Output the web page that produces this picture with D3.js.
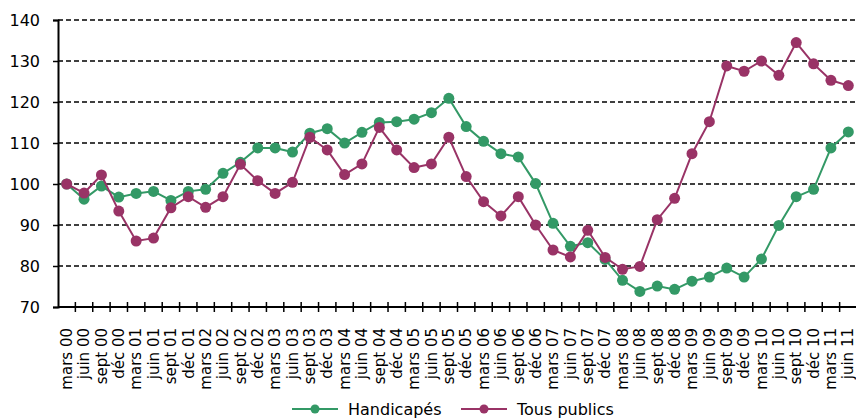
<!DOCTYPE html>
<html>
<head>
<meta charset="utf-8">
<script src="https://cdn.jsdelivr.net/npm/d3@7"></script>
<style>
  body { margin: 0; background: #fff; }
  text { font-family: "DejaVu Sans", sans-serif; fill: #000; }
</style>
</head>
<body>
<div id="chart"></div>
<script>
const quarters = [
  "mars 00", "juin 00", "sept 00", "déc 00",
  "mars 01", "juin 01", "sept 01", "déc 01",
  "mars 02", "juin 02", "sept 02", "déc 02",
  "mars 03", "juin 03", "sept 03", "déc 03",
  "mars 04", "juin 04", "sept 04", "déc 04",
  "mars 05", "juin 05", "sept 05", "déc 05",
  "mars 06", "juin 06", "sept 06", "déc 06",
  "mars 07", "juin 07", "sept 07", "déc 07",
  "mars 08", "juin 08", "sept 08", "déc 08",
  "mars 09", "juin 09", "sept 09", "déc 09",
  "mars 10", "juin 10", "sept 10", "déc 10",
  "mars 11", "juin 11"
];

const handicapes = [
  100, 96.3, 99.5, 96.8, 97.7, 98.2, 96.0, 98.2,
  98.7, 102.6, 105.3, 108.8, 108.8, 107.8, 112.4, 113.5,
  110.0, 112.6, 115.0, 115.2, 115.8, 117.4, 120.9, 114.0,
  110.4, 107.4, 106.6, 100.1, 90.4, 84.8, 85.7, 81.6,
  76.5, 73.8, 75.1, 74.3, 76.3, 77.3, 79.5, 77.3,
  81.7, 89.9, 96.9, 98.7, 108.8, 112.7
];

const tousPublics = [
  100, 97.8, 102.2, 93.4, 86.1, 86.8, 94.2, 96.9,
  94.3, 96.9, 104.8, 100.8, 97.7, 100.4, 111.4, 108.3,
  102.3, 104.9, 113.8, 108.3, 104.0, 104.9, 111.4, 101.8,
  95.7, 92.2, 96.9, 90.0, 83.9, 82.2, 88.7, 82.1,
  79.2, 79.9, 91.3, 96.5, 107.4, 115.2, 128.8, 127.5,
  130.0, 126.5, 134.5, 129.3, 125.3, 124.0
];

const yTicks = [70, 80, 90, 100, 110, 120, 130, 140];

const series = [
  { name: "Handicapés", values: handicapes, color: "#339966" },
  { name: "Tous publics", values: tousPublics, color: "#993366" }
];

const width = 856, height = 420;
const plotLeft = 58, plotRight = 857, plotTop = 20, plotBottom = 307;

const svg = d3.select("#chart")
  .append("svg")
  .attr("width", width)
  .attr("height", height);

// Scales
const x = d3.scaleBand().domain(quarters).range([plotLeft, plotRight]).padding(0);
const y = d3.scaleLinear().domain([70, 140]).range([plotBottom, plotTop]);
const cx = (d) => x(d) + x.bandwidth() / 2;

// Grid lines
svg.append("g")
  .selectAll("line")
  .data(yTicks.filter((t) => t > 70))
  .enter()
  .append("line")
  .attr("x1", plotLeft)
  .attr("x2", width)
  .attr("y1", (d) => y(d))
  .attr("y2", (d) => y(d))
  .attr("stroke", "#000")
  .attr("stroke-width", 1.5)
  .attr("stroke-dasharray", "5,3");

// Y axis
const yAxis = svg.append("g")
  .attr("transform", `translate(${plotLeft},0)`)
  .call(d3.axisLeft(y).tickValues(yTicks).tickSize(5).tickPadding(13));
yAxis.select(".domain").attr("stroke", "#000").attr("stroke-width", 2);
yAxis.selectAll(".tick line").attr("stroke", "#000").attr("stroke-width", 1.5);
yAxis.selectAll("text")
  .style("font-family", '"DejaVu Sans", sans-serif')
  .style("font-size", "16px")
  .attr("fill", "#000");

// X axis line and ticks at band boundaries
svg.append("line")
  .attr("x1", plotLeft)
  .attr("x2", width)
  .attr("y1", plotBottom)
  .attr("y2", plotBottom)
  .attr("stroke", "#000")
  .attr("stroke-width", 2);

svg.append("g")
  .selectAll("line")
  .data(quarters.slice(1))
  .enter()
  .append("line")
  .attr("x1", (d) => x(d))
  .attr("x2", (d) => x(d))
  .attr("y1", plotBottom - 5)
  .attr("y2", plotBottom + 5)
  .attr("stroke", "#000")
  .attr("stroke-width", 1.5);

// X labels, rotated (last one nudged so it stays inside the frame)
const lx = (d) => Math.min(cx(d), width - 8);
svg.append("g")
  .selectAll("text")
  .data(quarters)
  .enter()
  .append("text")
  .attr("x", (d) => lx(d))
  .attr("y", 328)
  .attr("dy", "0.35em")
  .attr("text-anchor", "end")
  .attr("transform", (d) => `rotate(-90,${lx(d)},328)`)
  .style("font-size", "15px")
  .text((d) => d);

// Lines and points
const line = d3.line()
  .x((d, i) => cx(quarters[i]))
  .y((d) => y(d));

series.forEach((s) => {
  svg.append("path")
    .datum(s.values)
    .attr("fill", "none")
    .attr("stroke", s.color)
    .attr("stroke-width", 2)
    .attr("d", line);

  svg.append("g")
    .selectAll("circle")
    .data(s.values)
    .enter()
    .append("circle")
    .attr("cx", (d, i) => cx(quarters[i]))
    .attr("cy", (d) => y(d))
    .attr("r", 5.5)
    .attr("fill", s.color);
});

// Legend
const legendY = 409;
const legendX = [292, 461];
series.forEach((s, i) => {
  const g = svg.append("g").attr("transform", `translate(${legendX[i]},${legendY})`);
  g.append("line")
    .attr("x1", 0)
    .attr("x2", 46)
    .attr("stroke", s.color)
    .attr("stroke-width", 2);
  g.append("circle")
    .attr("cx", 23)
    .attr("r", 4.5)
    .attr("fill", s.color);
  g.append("text")
    .attr("x", 56)
    .attr("dy", "0.35em")
    .style("font-size", "16px")
    .text(s.name);
});
</script>
</body>
</html>
